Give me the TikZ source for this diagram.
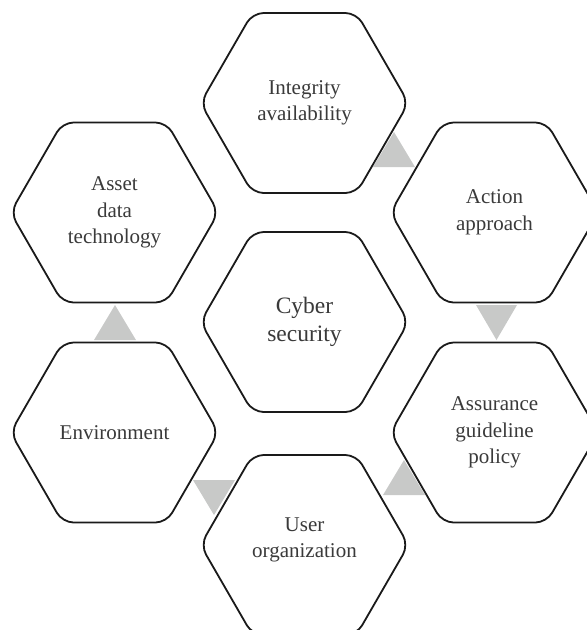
\documentclass[tikz,border=0pt]{standalone}
\usepackage{fontspec}
\setmainfont{Liberation Serif}
\definecolor{hexline}{HTML}{1A1A1A}
\definecolor{labeltext}{HTML}{3A3A3A}
\definecolor{markergray}{HTML}{C8C9C8}
% one rounded hexagon (pointed left and right) around a named centre
\newcommand{\honeycell}[1]{%
  \draw[hexcell] (#1) +(-104,0) -- +(-52,-90) -- +(52,-90) -- +(104,0)
    -- +(52,90) -- +(-52,90) -- cycle;}
\begin{document}
\begin{tikzpicture}[x=1pt,y=-1pt,
  hexcell/.style={draw=hexline, line width=1.8pt, fill=white, rounded corners=11pt},
  cellText/.style={text=labeltext, align=center, inner sep=0pt,
    font=\fontsize{21}{26.5}\selectfont},
  hubText/.style={cellText, font=\fontsize{23.5}{28}\selectfont},
  marker/.style={fill=markergray, draw=none}]
\useasboundingbox (0,0) rectangle (587,630);

% cell centres
\coordinate (cTop)   at (304.5,103);
\coordinate (cHub)   at (304.5,322);
\coordinate (cBot)   at (304.5,545);
\coordinate (cNE)    at (494.5,212.5);
\coordinate (cSE)    at (494.5,432.5);
\coordinate (cSW)    at (114.5,432.5);
\coordinate (cNW)    at (114.5,212.5);

% grey markers between neighbouring cells (drawn first, cells cover them)
\fill[marker] (394,132) -- (373,167) -- (415,167) -- cycle;
\fill[marker] (476,305) -- (517,305) -- (496.5,340) -- cycle;
\fill[marker] (404,460) -- (383,495) -- (425,495) -- cycle;
\fill[marker] (193,480) -- (235,480) -- (214,515) -- cycle;
\fill[marker] (115,305) -- (94,340) -- (136,340) -- cycle;

% cells
\honeycell{cTop}
\honeycell{cNE}
\honeycell{cSE}
\honeycell{cBot}
\honeycell{cSW}
\honeycell{cNW}
\honeycell{cHub}

% labels
\node[cellText] (integrity) at (cTop) {Integrity\\availability};
\node[cellText] (action)    at (cNE)  {Action\\approach};
\node[cellText] (assurance) at (cSE)  {Assurance\\guideline\\policy};
\node[cellText] (user)      at (304.5,540) {User\\organization};
\node[cellText] (environ)   at (cSW)  {Environment};
\node[cellText] (asset)     at (cNW)  {Asset\\data\\technology};
\node[hubText]  (cyber)     at (cHub) {Cyber\\security};
\end{tikzpicture}
\end{document}
